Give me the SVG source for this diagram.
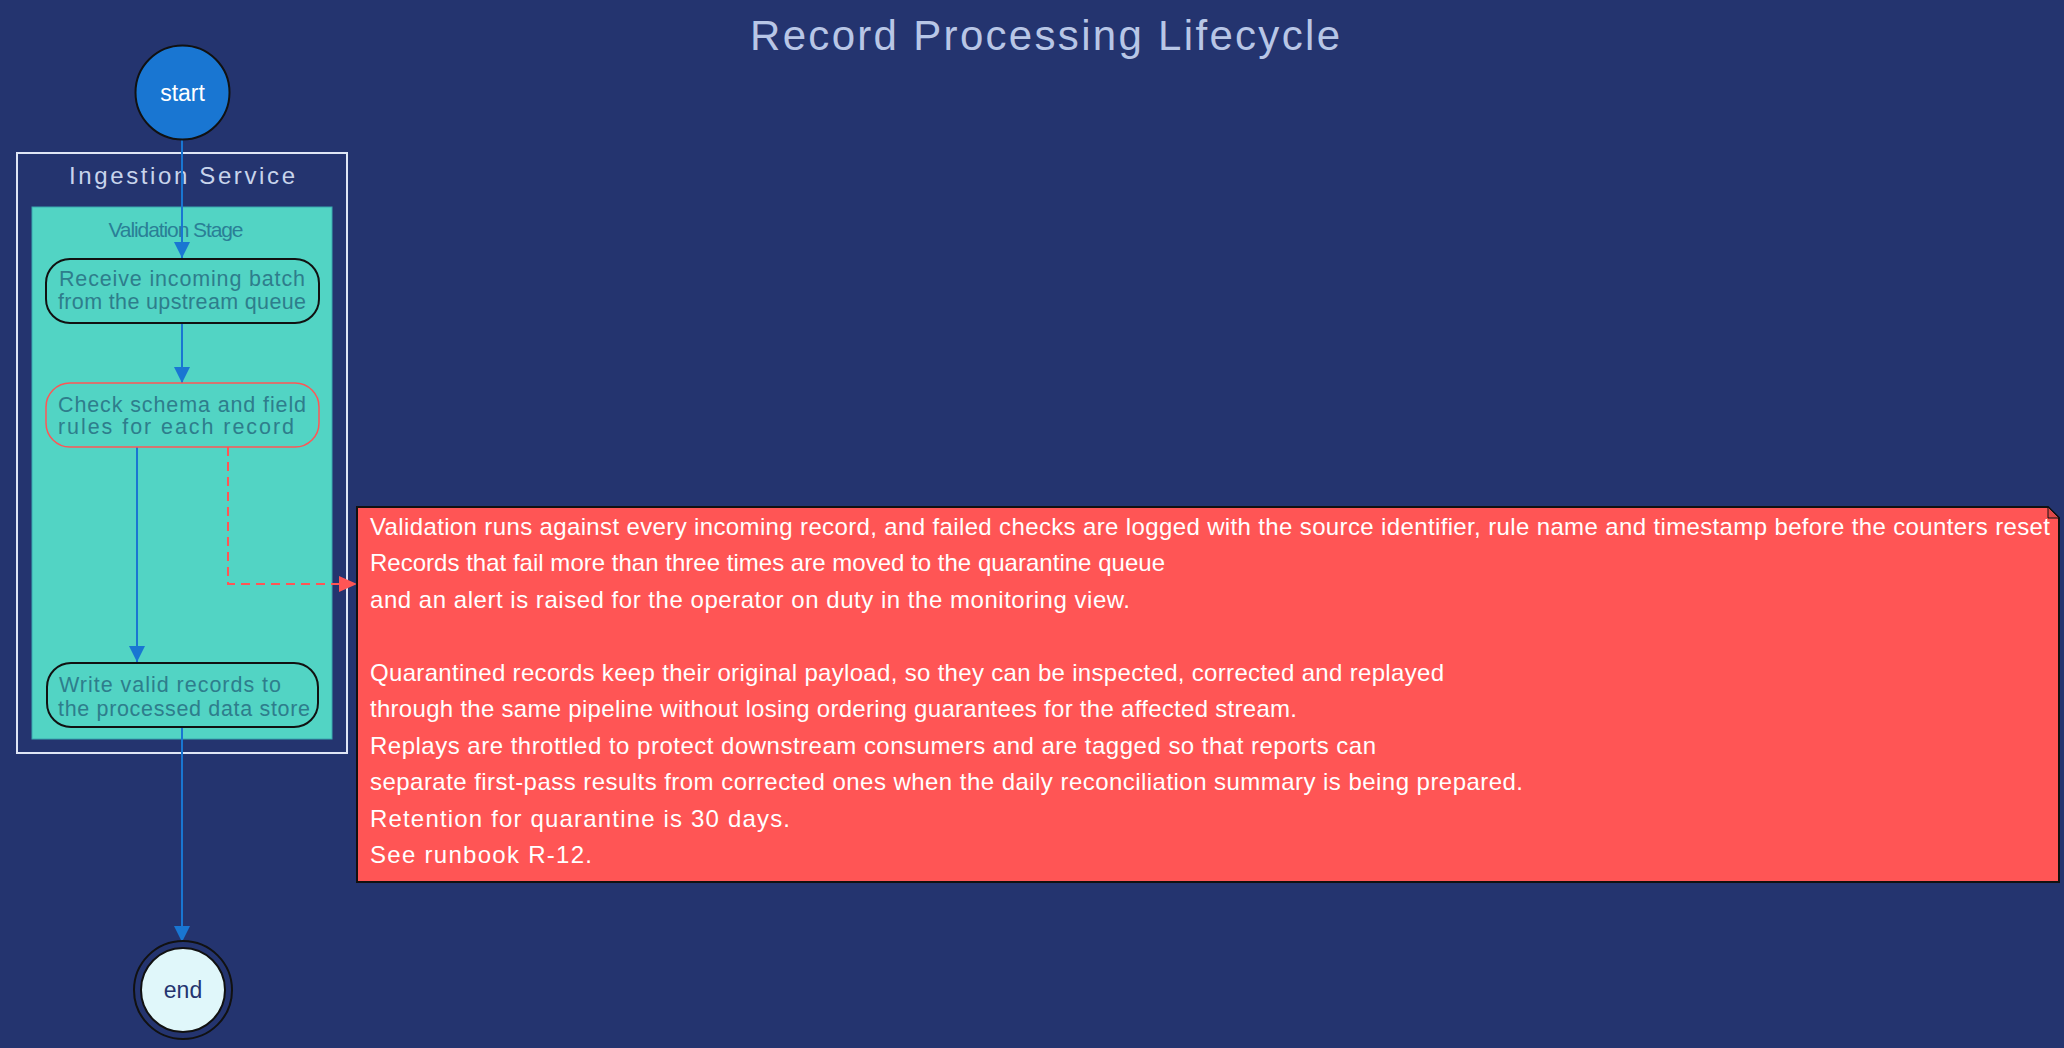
<svg xmlns="http://www.w3.org/2000/svg" width="2064" height="1048" viewBox="0 0 2064 1048">
<style>
.lbl{font-family:"Liberation Sans",Arial,sans-serif;}
.st{fill:#52d4c4;stroke:#111;stroke-width:2;}
.stl{fill:#2e7d8c;font-size:21.5px;text-anchor:middle;}
.note{fill:#ffffff;font-size:24px;}
.edge{fill:none;stroke:#1976d2;stroke-width:2;}
.dash{fill:none;stroke:#ff5555;stroke-width:2;stroke-dasharray:9 6;}
</style>
<defs>
<marker id="ab" markerUnits="userSpaceOnUse" markerWidth="16" markerHeight="20" refX="16" refY="8" orient="auto">
<path d="M0,0 L16,8 L0,16 Z" fill="#1976d2"/>
</marker>
<marker id="ar" markerUnits="userSpaceOnUse" markerWidth="20" markerHeight="16" refX="18" refY="8" orient="auto">
<path d="M0,0 L18,8 L0,16 Z" fill="#ff5555"/>
</marker>
</defs>
<rect width="2064" height="1048" fill="#24346f"/>
<text class="lbl" x="1045" y="50" font-size="42" fill="#b8c6e6" text-anchor="middle" textLength="590" lengthAdjust="spacing">Record Processing Lifecycle</text>

<g id="cluster-outer">
<rect x="17" y="153" width="330" height="600" fill="none" stroke="#dfe6f5" stroke-width="2"/>
<text class="lbl" x="182" y="184" font-size="24" fill="#c8d4ec" text-anchor="middle" textLength="226" lengthAdjust="spacing">Ingestion Service</text>
</g>
<g id="cluster-inner">
<rect x="32" y="207" width="300" height="532" fill="#52d4c4" stroke="#3aa8b0" stroke-width="1"/>
<text class="lbl" x="176" y="237" font-size="21" fill="#2a7f96" text-anchor="middle" textLength="135" lengthAdjust="spacing">Validation Stage</text>
</g>

<g id="connectors">
<path class="edge" d="M182,140 V258" marker-end="url(#ab)"/>
<path class="edge" d="M182,323 V383" marker-end="url(#ab)"/>
<path class="edge" d="M137,447 V662" marker-end="url(#ab)"/>
<path class="edge" d="M182,727 V942" marker-end="url(#ab)"/>
<path class="dash" d="M228,447 V584 H357" marker-end="url(#ar)"/>
</g>

<g id="start">
<circle cx="182.5" cy="92.5" r="47" fill="#1976d2" stroke="#111" stroke-width="2"/>
<text class="lbl" x="182.5" y="101" font-size="23" fill="#ffffff" text-anchor="middle">start</text>
</g>

<g id="receive">
<rect class="st" x="46" y="259" width="273" height="64" rx="24"/>
<text class="lbl stl" x="182" y="286" textLength="246" lengthAdjust="spacing">Receive incoming batch</text>
<text class="lbl stl" x="182" y="309" textLength="248" lengthAdjust="spacing">from the upstream queue</text>
</g>

<g id="check">
<rect x="46" y="383" width="273" height="64" rx="24" fill="#52d4c4" stroke="#ff5555" stroke-width="1.5"/>
<text class="lbl stl" x="182" y="412" textLength="248" lengthAdjust="spacing">Check schema and field</text>
<text class="lbl stl" x="176" y="434" textLength="236" lengthAdjust="spacing">rules for each record</text>
</g>

<g id="store">
<rect class="st" x="47" y="663" width="271" height="64" rx="24"/>
<text class="lbl stl" x="170" y="692" textLength="222" lengthAdjust="spacing">Write valid records to</text>
<text class="lbl stl" x="184" y="716" textLength="252" lengthAdjust="spacing">the processed data store</text>
</g>

<g id="note">
<path d="M357,507 H2048 L2059,518 V882 H357 Z" fill="#ff5555" stroke="#111" stroke-width="2"/>
<path d="M2048,507 V518 H2059 Z" fill="#e04848" stroke="#111" stroke-width="1"/>
<text class="lbl note" x="370" y="535" textLength="1680" lengthAdjust="spacing">Validation runs against every incoming record, and failed checks are logged with the source identifier, rule name and timestamp before the counters reset</text>
<text class="lbl note" x="370" y="571" textLength="795" lengthAdjust="spacing">Records that fail more than three times are moved to the quarantine queue</text>
<text class="lbl note" x="370" y="608" textLength="760" lengthAdjust="spacing">and an alert is raised for the operator on duty in the monitoring view.</text>
<text class="lbl note" x="370" y="681" textLength="1074" lengthAdjust="spacing">Quarantined records keep their original payload, so they can be inspected, corrected and replayed</text>
<text class="lbl note" x="370" y="717" textLength="927" lengthAdjust="spacing">through the same pipeline without losing ordering guarantees for the affected stream.</text>
<text class="lbl note" x="370" y="754" textLength="1006" lengthAdjust="spacing">Replays are throttled to protect downstream consumers and are tagged so that reports can</text>
<text class="lbl note" x="370" y="790" textLength="1153" lengthAdjust="spacing">separate first-pass results from corrected ones when the daily reconciliation summary is being prepared.</text>
<text class="lbl note" x="370" y="827" textLength="420" lengthAdjust="spacing">Retention for quarantine is 30 days.</text>
<text class="lbl note" x="370" y="863" textLength="222" lengthAdjust="spacing">See runbook R-12.</text>
</g>

<g id="end">
<circle cx="183" cy="990" r="49" fill="#24346f" stroke="#111" stroke-width="2"/>
<circle cx="183" cy="990" r="42" fill="#e0f7fa" stroke="#111" stroke-width="2"/>
<text class="lbl" x="183" y="998" font-size="23" fill="#24346f" text-anchor="middle">end</text>
</g>
</svg>
